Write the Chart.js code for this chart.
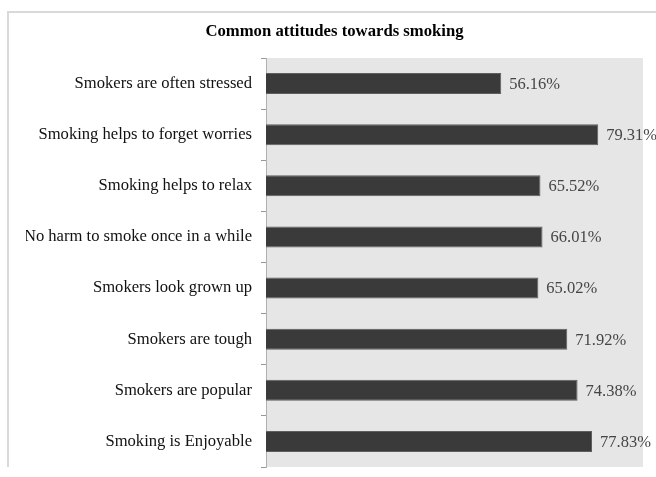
<!DOCTYPE html>
<html>
<head>
<meta charset="utf-8">
<script src="https://cdn.jsdelivr.net/npm/chart.js@4/dist/chart.umd.min.js"></script>
<style>
  html, body { margin: 0; padding: 0; background: #fff; }
  #wrap { width: 656px; height: 477px; }
</style>
</head>
<body>
<div id="wrap"><canvas id="myChart" width="656" height="477"></canvas></div>
<script>
var labels = [
  'Smokers are often stressed',
  'Smoking helps to forget worries',
  'Smoking helps to relax',
  'No harm to smoke once in a while',
  'Smokers look grown up',
  'Smokers are tough',
  'Smokers are popular',
  'Smoking is Enjoyable'
];
var values = [56.16, 79.31, 65.52, 66.01, 65.02, 71.92, 74.38, 77.83];
var serif = "'Liberation Serif', 'Times New Roman', serif";

// grey plot area + outer frame
var backdrop = {
  id: 'backdrop',
  beforeDraw: function (chart) {
    var c = chart.ctx, a = chart.chartArea;
    c.save();
    c.fillStyle = '#fff';
    c.fillRect(0, 0, chart.width, chart.height);
    c.fillStyle = '#e6e6e6';
    c.fillRect(a.left, a.top, a.right - a.left, a.bottom - a.top);
    c.strokeStyle = '#d9d9d9';
    c.lineWidth = 2;
    c.beginPath();
    c.moveTo(8, 467);
    c.lineTo(8, 12);
    c.lineTo(656, 12);
    c.stroke();
    c.restore();
  }
};

// percentage text after each bar
var valueLabels = {
  id: 'valueLabels',
  afterDatasetsDraw: function (chart) {
    var c = chart.ctx;
    var meta = chart.getDatasetMeta(0);
    c.save();
    c.font = '16.5px ' + serif;
    c.fillStyle = '#454545';
    c.textBaseline = 'middle';
    c.textAlign = 'left';
    meta.data.forEach(function (bar, i) {
      c.fillText(values[i].toFixed(2) + '%', bar.x + 8, bar.y + 1);
    });
    c.restore();
  }
};

var ctx = document.getElementById('myChart').getContext('2d');
var chart = new Chart(ctx, {
  type: 'bar',
  data: {
    labels: labels,
    datasets: [{
      data: values,
      backgroundColor: '#3a3a3a',
      borderColor: '#5e5e5e',
      borderWidth: 1,
      categoryPercentage: 1,
      barPercentage: 0.41
    }]
  },
  options: {
    indexAxis: 'y',
    responsive: false,
    animation: false,
    layout: { padding: { top: 12, right: 13, bottom: 10, left: 26 } },
    plugins: {
      legend: { display: false },
      tooltip: { enabled: false },
      title: {
        display: true,
        text: 'Common attitudes towards smoking',
        color: '#000',
        font: { family: serif, size: 16.7, weight: 'bold' },
        padding: { top: 10, bottom: 16 }
      }
    },
    scales: {
      x: { display: false, min: 0, max: 90 },
      y: {
        afterFit: function (scale) {
          scale.width = 240;
          scale.paddingTop = 0;
          scale.paddingBottom = 0;
        },
        grid: {
          drawOnChartArea: false,
          drawTicks: true,
          tickLength: 5,
          color: '#999'
        },
        border: { display: true, color: '#b0b0b0' },
        ticks: {
          padding: 9,
          color: '#111',
          font: { family: serif, size: 16.6 }
        }
      }
    }
  },
  plugins: [backdrop, valueLabels]
});
</script>
</body>
</html>
